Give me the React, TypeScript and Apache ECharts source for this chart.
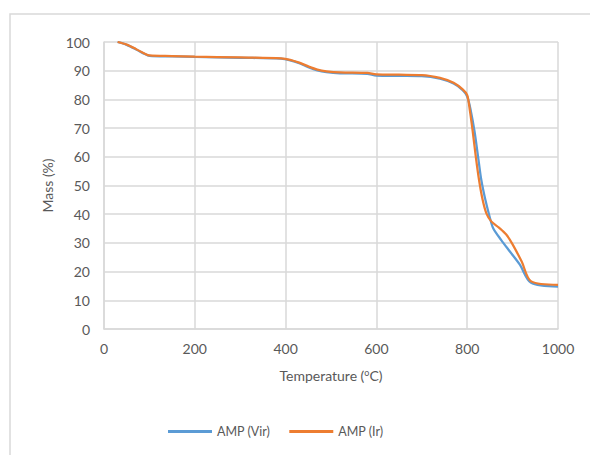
import React, { useEffect, useRef } from "react";
import * as echarts from "echarts";

const xTicks = [0, 200, 400, 600, 800, 1000];

const virTemp = [30, 50, 70, 90, 100, 150, 200, 300, 390, 410, 430, 450, 470, 490, 520, 580, 600, 650, 700, 740, 770, 790, 800, 808, 816, 824, 831, 840, 848, 857, 875, 894, 916, 940, 1000];
const virMass = [100, 99, 97.5, 95.8, 95.2, 95.0, 94.8, 94.5, 94.2, 93.6, 92.6, 91.2, 90.1, 89.5, 89.1, 88.9, 88.3, 88.2, 88.1, 87.2, 85.5, 83.2, 81, 76, 69, 60, 52, 45, 40, 35.2, 31, 27, 22.4, 16.2, 14.8];

const irTemp = [30, 50, 70, 90, 100, 150, 200, 300, 390, 410, 430, 450, 470, 490, 520, 580, 600, 650, 700, 740, 770, 790, 800, 806, 812, 819, 826, 834, 842, 853, 870, 886, 900, 920, 941, 1000];
const irMass = [100, 99.1, 97.6, 95.9, 95.3, 95.1, 94.9, 94.6, 94.3, 93.8, 92.8, 91.5, 90.4, 89.8, 89.4, 89.2, 88.7, 88.6, 88.5, 87.5, 85.8, 83.5, 81.5, 76, 69, 60, 52, 45, 40.4, 37.5, 35.3, 32.9, 29.5, 23.5, 16.6, 15.4];

const seriesNames = ["AMP (Vir)", "AMP (Ir)"];
const seriesColors = ["#5B9BD5", "#ED7D31"];

const pairs = (xs: number[], ys: number[]) => xs.map((x, i) => [x, ys[i]]);

export default function App() {
  const ref = useRef<HTMLDivElement>(null);
  useEffect(() => {
    if (!ref.current) return;
    const chart = echarts.init(ref.current, null, { renderer: "svg" });
    const font = "Lato, 'Open Sans', sans-serif";
    chart.setOption({
      animation: false,
      textStyle: { fontFamily: font },
      graphic: [
        {
          type: "rect",
          shape: { x: 10, y: 14, width: 620, height: 480 },
          style: { fill: "none", stroke: "#d9d9d9", lineWidth: 1.5 },
          silent: true,
        },
      ],
      grid: { left: 104, right: 32, top: 42, bottom: 126, containLabel: false },
      legend: {
        left: 168,
        top: 425,
        padding: 0,
        itemWidth: 44,
        itemHeight: 3,
        itemGap: 19,
        icon: "rect",
        textStyle: { color: "#595959", fontSize: 12.5, fontFamily: font },
        data: seriesNames,
      },
      xAxis: {
        type: "value",
        min: 0,
        max: 1000,
        interval: 200,
        name: "Temperature ({s|o}C)",
        nameLocation: "middle",
        nameGap: 39,
        nameTextStyle: {
          color: "#595959",
          fontSize: 14,
          fontFamily: font,
          rich: { s: { fontSize: 9, verticalAlign: "top", padding: [0, 0, 6, 0], color: "#595959", fontFamily: font } },
        },
        axisLine: { show: true, lineStyle: { color: "#d9d9d9", width: 1.5 } },
        axisTick: { show: false },
        axisLabel: {
          color: "#595959",
          fontSize: 14,
          margin: 12,
          formatter: (v: number) => (xTicks.includes(v) ? String(v) : ""),
        },
        splitLine: { show: true, lineStyle: { color: "#d9d9d9", width: 1.5 } },
      },
      yAxis: {
        type: "value",
        min: 0,
        max: 100,
        interval: 10,
        name: "Mass (%)",
        nameLocation: "middle",
        nameGap: 43,
        nameTextStyle: { color: "#595959", fontSize: 14, fontFamily: font },
        axisLine: { show: true, lineStyle: { color: "#d9d9d9", width: 1.5 } },
        axisTick: { show: false },
        axisLabel: { color: "#595959", fontSize: 14, margin: 14 },
        splitLine: { show: true, lineStyle: { color: "#d9d9d9", width: 1.5 } },
      },
      series: [
        {
          name: seriesNames[0],
          type: "line",
          data: pairs(virTemp, virMass),
          smooth: 0.3,
          showSymbol: false,
          symbol: "none",
          lineStyle: { color: seriesColors[0], width: 2.25 },
          itemStyle: { color: seriesColors[0] },
        },
        {
          name: seriesNames[1],
          type: "line",
          data: pairs(irTemp, irMass),
          smooth: 0.3,
          showSymbol: false,
          symbol: "none",
          lineStyle: { color: seriesColors[1], width: 2.25 },
          itemStyle: { color: seriesColors[1] },
        },
      ],
    });
    return () => chart.dispose();
  }, []);
  return (
    <div
      ref={ref}
      style={{ position: "fixed", left: 0, top: 0, width: 590, height: 455, background: "#fff" }}
    />
  );
}
